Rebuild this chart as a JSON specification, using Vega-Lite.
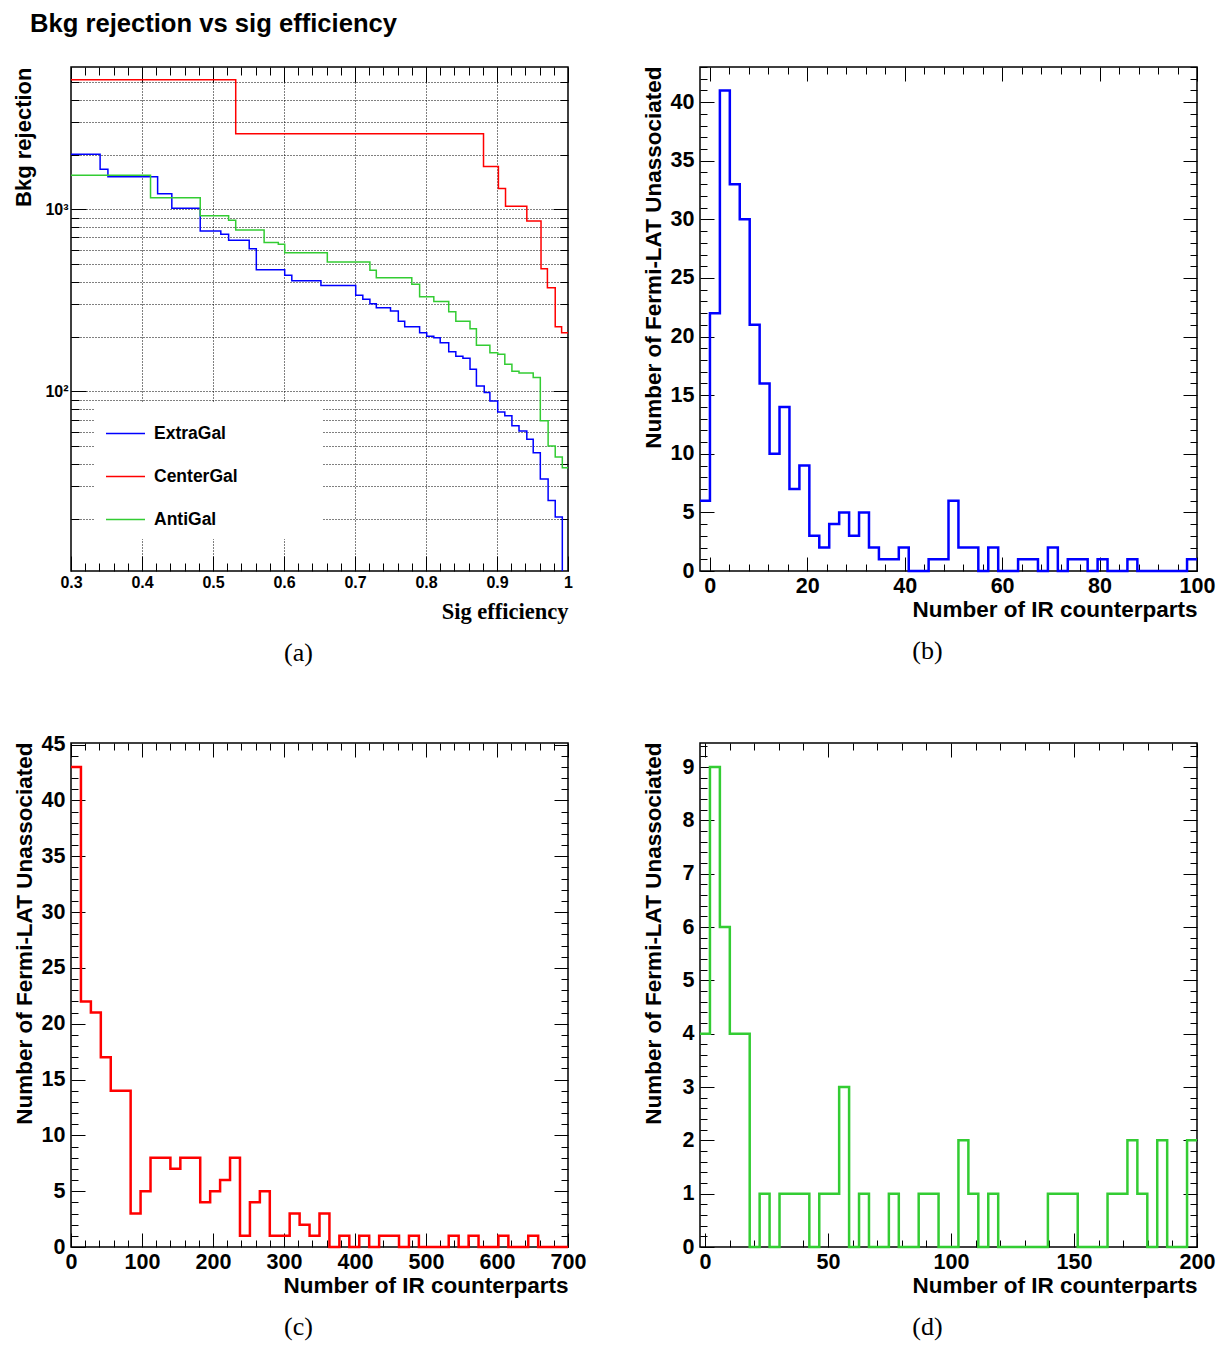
{
  "$schema": "https://vega.github.io/schema/vega-lite/v6.json",
  "background": "white",
  "padding": {"left": 11, "top": 11, "right": 5, "bottom": 5},
  "title": {"text": "Bkg rejection vs sig efficiency", "anchor": "start", "frame": "group", "dx": -41, "offset": -2, "baseline": "alphabetic", "font": "Liberation Sans", "fontSize": 25.6, "fontWeight": "bold", "color": "black"},
  "columns": 2,
  "spacing": {"row": 172, "column": 132},
  "bounds": "flush",
  "concat": [
    {
      "width": 497, "height": 504,
      "title": {"text": "(a)", "orient": "bottom", "anchor": "middle", "frame": "group", "dx": -21, "offset": 17, "baseline": "top", "font": "Liberation Serif", "fontSize": 26, "fontWeight": "normal", "color": "black"},
      "data": {"values": [
        {"eff": 0.300, "rej": 2006, "sample": "ExtraGal"},
        {"eff": 0.341, "rej": 1659, "sample": "ExtraGal"},
        {"eff": 0.352, "rej": 1511, "sample": "ExtraGal"},
        {"eff": 0.422, "rej": 1218, "sample": "ExtraGal"},
        {"eff": 0.442, "rej": 1013, "sample": "ExtraGal"},
        {"eff": 0.482, "rej": 760, "sample": "ExtraGal"},
        {"eff": 0.511, "rej": 729, "sample": "ExtraGal"},
        {"eff": 0.522, "rej": 676, "sample": "ExtraGal"},
        {"eff": 0.551, "rej": 608, "sample": "ExtraGal"},
        {"eff": 0.561, "rej": 466, "sample": "ExtraGal"},
        {"eff": 0.601, "rej": 434, "sample": "ExtraGal"},
        {"eff": 0.611, "rej": 405, "sample": "ExtraGal"},
        {"eff": 0.652, "rej": 381, "sample": "ExtraGal"},
        {"eff": 0.701, "rej": 337, "sample": "ExtraGal"},
        {"eff": 0.711, "rej": 320, "sample": "ExtraGal"},
        {"eff": 0.721, "rej": 303, "sample": "ExtraGal"},
        {"eff": 0.730, "rej": 288, "sample": "ExtraGal"},
        {"eff": 0.750, "rej": 276, "sample": "ExtraGal"},
        {"eff": 0.761, "rej": 243, "sample": "ExtraGal"},
        {"eff": 0.770, "rej": 226, "sample": "ExtraGal"},
        {"eff": 0.791, "rej": 210, "sample": "ExtraGal"},
        {"eff": 0.801, "rej": 201, "sample": "ExtraGal"},
        {"eff": 0.811, "rej": 197, "sample": "ExtraGal"},
        {"eff": 0.820, "rej": 185, "sample": "ExtraGal"},
        {"eff": 0.832, "rej": 165, "sample": "ExtraGal"},
        {"eff": 0.842, "rej": 156, "sample": "ExtraGal"},
        {"eff": 0.852, "rej": 152, "sample": "ExtraGal"},
        {"eff": 0.862, "rej": 132, "sample": "ExtraGal"},
        {"eff": 0.871, "rej": 107, "sample": "ExtraGal"},
        {"eff": 0.882, "rej": 98.5, "sample": "ExtraGal"},
        {"eff": 0.890, "rej": 88.5, "sample": "ExtraGal"},
        {"eff": 0.901, "rej": 77, "sample": "ExtraGal"},
        {"eff": 0.911, "rej": 73.3, "sample": "ExtraGal"},
        {"eff": 0.921, "rej": 64.6, "sample": "ExtraGal"},
        {"eff": 0.931, "rej": 60.6, "sample": "ExtraGal"},
        {"eff": 0.942, "rej": 54.6, "sample": "ExtraGal"},
        {"eff": 0.951, "rej": 46, "sample": "ExtraGal"},
        {"eff": 0.961, "rej": 33, "sample": "ExtraGal"},
        {"eff": 0.972, "rej": 25.1, "sample": "ExtraGal"},
        {"eff": 0.982, "rej": 20.4, "sample": "ExtraGal"},
        {"eff": 0.992, "rej": 5, "sample": "ExtraGal"},
        {"eff": 1.0, "rej": 5, "sample": "ExtraGal"},
        {"eff": 0.300, "rej": 5150, "sample": "CenterGal"},
        {"eff": 0.532, "rej": 2600, "sample": "CenterGal"},
        {"eff": 0.881, "rej": 1720, "sample": "CenterGal"},
        {"eff": 0.902, "rej": 1300, "sample": "CenterGal"},
        {"eff": 0.912, "rej": 1040, "sample": "CenterGal"},
        {"eff": 0.942, "rej": 863, "sample": "CenterGal"},
        {"eff": 0.962, "rej": 472, "sample": "CenterGal"},
        {"eff": 0.971, "rej": 371, "sample": "CenterGal"},
        {"eff": 0.982, "rej": 226, "sample": "CenterGal"},
        {"eff": 0.991, "rej": 210, "sample": "CenterGal"},
        {"eff": 1.0, "rej": 210, "sample": "CenterGal"},
        {"eff": 0.300, "rej": 1537, "sample": "AntiGal"},
        {"eff": 0.412, "rej": 1158, "sample": "AntiGal"},
        {"eff": 0.482, "rej": 922, "sample": "AntiGal"},
        {"eff": 0.522, "rej": 870, "sample": "AntiGal"},
        {"eff": 0.532, "rej": 770, "sample": "AntiGal"},
        {"eff": 0.572, "rej": 656, "sample": "AntiGal"},
        {"eff": 0.592, "rej": 642, "sample": "AntiGal"},
        {"eff": 0.601, "rej": 577, "sample": "AntiGal"},
        {"eff": 0.661, "rej": 513, "sample": "AntiGal"},
        {"eff": 0.721, "rej": 462, "sample": "AntiGal"},
        {"eff": 0.730, "rej": 421, "sample": "AntiGal"},
        {"eff": 0.780, "rej": 387, "sample": "AntiGal"},
        {"eff": 0.791, "rej": 331, "sample": "AntiGal"},
        {"eff": 0.811, "rej": 311, "sample": "AntiGal"},
        {"eff": 0.832, "rej": 274, "sample": "AntiGal"},
        {"eff": 0.842, "rej": 243, "sample": "AntiGal"},
        {"eff": 0.862, "rej": 221, "sample": "AntiGal"},
        {"eff": 0.871, "rej": 179, "sample": "AntiGal"},
        {"eff": 0.890, "rej": 163, "sample": "AntiGal"},
        {"eff": 0.901, "rej": 160, "sample": "AntiGal"},
        {"eff": 0.911, "rej": 141, "sample": "AntiGal"},
        {"eff": 0.921, "rej": 129, "sample": "AntiGal"},
        {"eff": 0.931, "rej": 126, "sample": "AntiGal"},
        {"eff": 0.951, "rej": 119, "sample": "AntiGal"},
        {"eff": 0.961, "rej": 69, "sample": "AntiGal"},
        {"eff": 0.972, "rej": 50, "sample": "AntiGal"},
        {"eff": 0.982, "rej": 43.6, "sample": "AntiGal"},
        {"eff": 0.992, "rej": 38, "sample": "AntiGal"},
        {"eff": 1.0, "rej": 38, "sample": "AntiGal"}
      ]},
      "layer": [
        {
          "mark": {"type": "line", "interpolate": "step-after", "strokeWidth": 1.5, "clip": true},
          "encoding": {
            "x": {"field": "eff", "type": "quantitative",
              "scale": {"domain": [0.3, 1.0], "nice": false, "zero": false},
              "axis": {"orient": "bottom",
                "values": [0.3,0.32,0.34,0.36,0.38,0.4,0.42,0.44,0.46,0.48,0.5,0.52,0.54,0.56,0.58,0.6,0.62,0.64,0.66,0.68,0.7,0.72,0.74,0.76,0.78,0.8,0.82,0.84,0.86,0.88,0.9,0.92,0.94,0.96,0.98,1],
                "labelExpr": "abs(datum.value*10 - round(datum.value*10)) < 0.001 ? (datum.value > 0.999 ? '1' : format(datum.value, '.1f')) : ''",
                "labelFontSize": 16, "labelPadding": 18,
                "tickSize": {"condition": {"test": "abs(datum.value*10 - round(datum.value*10)) < 0.001", "value": -15}, "value": -8},
                "grid": true, "gridColor": "black", "gridDash": [1, 2], "gridWidth": 1,
                "gridOpacity": {"condition": {"test": "abs(datum.value*10 - round(datum.value*10)) < 0.001 && datum.value > 0.31 && datum.value < 0.99", "value": 1}, "value": 0},
                "title": "Sig efficiency", "titleFont": "Liberation Serif", "titleFontSize": 22.5,
                "titleX": 497, "titleY": 47, "titleAlign": "right", "titleBaseline": "alphabetic", "titleAngle": 0}},
            "y": {"field": "rej", "type": "quantitative",
              "scale": {"type": "log", "domain": [10.3, 6050], "nice": false},
              "axis": {"orient": "left",
                "values": [20,30,40,50,60,70,80,90,100,200,300,400,500,600,700,800,900,1000,2000,3000,4000,5000],
                "labelExpr": "datum.value == 100 ? '10²' : (datum.value == 1000 ? '10³' : '')",
                "labelFontSize": 16, "labelPadding": 18,
                "tickSize": {"condition": {"test": "datum.value == 100 || datum.value == 1000", "value": -15}, "value": -8},
                "grid": true, "gridColor": "black", "gridDash": [1, 2], "gridWidth": 1,
                "title": "Bkg rejection", "titleFontSize": 22,
                "titleX": -41, "titleY": 0, "titleAngle": 270, "titleAlign": "right", "titleBaseline": "alphabetic"}},
            "color": {"field": "sample", "type": "nominal",
              "scale": {"domain": ["ExtraGal", "CenterGal", "AntiGal"], "range": ["#0000ff", "#ff0000", "#33cc33"]},
              "legend": {"orient": "none", "legendX": 23, "legendY": 335, "title": null,
                "symbolType": "stroke", "symbolSize": 1521, "symbolStrokeWidth": 1.5,
                "labelFont": "Liberation Sans", "labelFontWeight": "bold", "labelFontSize": 17.5, "labelColor": "black",
                "labelExpr": "datum.label + '               \u200b'",
                "labelLimit": 400,
                "labelOffset": 8, "rowPadding": 14, "padding": 11, "fillColor": "white"}}
          }
        },
        {
          "mark": {"type": "line", "opacity": 0, "clip": true},
          "encoding": {
            "x": {"field": "eff", "type": "quantitative",
              "scale": {"domain": [0.3, 1.0], "nice": false, "zero": false},
              "axis": {"orient": "top", "labels": false, "title": null, "grid": false,
                "values": [0.3,0.32,0.34,0.36,0.38,0.4,0.42,0.44,0.46,0.48,0.5,0.52,0.54,0.56,0.58,0.6,0.62,0.64,0.66,0.68,0.7,0.72,0.74,0.76,0.78,0.8,0.82,0.84,0.86,0.88,0.9,0.92,0.94,0.96,0.98,1],
                "tickSize": {"condition": {"test": "abs(datum.value*10 - round(datum.value*10)) < 0.001", "value": -15}, "value": -8}}},
            "y": {"field": "rej", "type": "quantitative",
              "scale": {"type": "log", "domain": [10.3, 6050], "nice": false},
              "axis": {"orient": "right", "labels": false, "title": null, "grid": false,
                "values": [20,30,40,50,60,70,80,90,100,200,300,400,500,600,700,800,900,1000,2000,3000,4000,5000],
                "tickSize": {"condition": {"test": "datum.value == 100 || datum.value == 1000", "value": -15}, "value": -8}}},
            "detail": {"field": "sample"}
          }
        }
      ],
      "resolve": {"axis": {"x": "independent", "y": "independent"}}
    },
    {
      "width": 497, "height": 504,
      "title": {"text": "(b)", "orient": "bottom", "anchor": "middle", "frame": "group", "dx": -21, "offset": 17, "baseline": "top", "font": "Liberation Serif", "fontSize": 26, "fontWeight": "normal", "color": "black"},
      "data": {"values": [
        {"lo": -2, "n": 6}, {"lo": 0.04, "n": 22}, {"lo": 2.08, "n": 41}, {"lo": 4.12, "n": 33}, {"lo": 6.16, "n": 30},
        {"lo": 8.2, "n": 21}, {"lo": 10.24, "n": 16}, {"lo": 12.28, "n": 10}, {"lo": 14.32, "n": 14}, {"lo": 16.36, "n": 7},
        {"lo": 18.4, "n": 9}, {"lo": 20.44, "n": 3}, {"lo": 22.48, "n": 2}, {"lo": 24.52, "n": 4}, {"lo": 26.56, "n": 5},
        {"lo": 28.6, "n": 3}, {"lo": 30.64, "n": 5}, {"lo": 32.68, "n": 2}, {"lo": 34.72, "n": 1}, {"lo": 36.76, "n": 1},
        {"lo": 38.8, "n": 2}, {"lo": 40.84, "n": 0}, {"lo": 42.88, "n": 0}, {"lo": 44.92, "n": 1}, {"lo": 46.96, "n": 1},
        {"lo": 49, "n": 6}, {"lo": 51.04, "n": 2}, {"lo": 53.08, "n": 2}, {"lo": 55.12, "n": 0}, {"lo": 57.16, "n": 2},
        {"lo": 59.2, "n": 0}, {"lo": 61.24, "n": 0}, {"lo": 63.28, "n": 1}, {"lo": 65.32, "n": 1}, {"lo": 67.36, "n": 0},
        {"lo": 69.4, "n": 2}, {"lo": 71.44, "n": 0}, {"lo": 73.48, "n": 1}, {"lo": 75.52, "n": 1}, {"lo": 77.56, "n": 0},
        {"lo": 79.6, "n": 1}, {"lo": 81.64, "n": 0}, {"lo": 83.68, "n": 0}, {"lo": 85.72, "n": 1}, {"lo": 87.76, "n": 0},
        {"lo": 89.8, "n": 0}, {"lo": 91.84, "n": 0}, {"lo": 93.88, "n": 0}, {"lo": 95.92, "n": 0}, {"lo": 97.96, "n": 1},
        {"lo": 100, "n": 1}
      ]},
      "layer": [
        {
          "mark": {"type": "line", "interpolate": "step-after", "color": "#0000ff", "strokeWidth": 2.5},
          "encoding": {
            "x": {"field": "lo", "type": "quantitative",
              "scale": {"domain": [-2, 100], "nice": false, "zero": false},
              "axis": {"orient": "bottom",
                "values": [0,4,8,12,16,20,24,28,32,36,40,44,48,52,56,60,64,68,72,76,80,84,88,92,96,100],
                "labelExpr": "datum.value % 20 == 0 ? datum.label : ''",
                "labelFontSize": 21.5, "labelPadding": 18,
                "tickSize": {"condition": {"test": "datum.value % 20 == 0", "value": -14}, "value": -7},
                "title": "Number of IR counterparts", "titleFontSize": 22.5,
                "titleX": 497, "titleY": 45, "titleAlign": "right", "titleBaseline": "alphabetic", "titleAngle": 0}},
            "y": {"field": "n", "type": "quantitative",
              "scale": {"domain": [0, 43], "nice": false},
              "axis": {"orient": "left",
                "values": [0,1,2,3,4,5,6,7,8,9,10,11,12,13,14,15,16,17,18,19,20,21,22,23,24,25,26,27,28,29,30,31,32,33,34,35,36,37,38,39,40,41,42,43],
                "labelExpr": "datum.value % 5 == 0 ? datum.label : ''",
                "labelFontSize": 21.5, "labelPadding": 20,
                "tickSize": {"condition": {"test": "datum.value % 5 == 0", "value": -14}, "value": -7},
                "title": "Number of Fermi-LAT Unassociated", "titleFontSize": 22.5,
                "titleX": -40, "titleY": -1, "titleAngle": 270, "titleAlign": "right", "titleBaseline": "alphabetic"}}
          }
        },
        {
          "mark": {"type": "line", "opacity": 0},
          "encoding": {
            "x": {"field": "lo", "type": "quantitative",
              "scale": {"domain": [-2, 100], "nice": false, "zero": false},
              "axis": {"orient": "top", "labels": false, "title": null,
                "values": [0,4,8,12,16,20,24,28,32,36,40,44,48,52,56,60,64,68,72,76,80,84,88,92,96,100],
                "tickSize": {"condition": {"test": "datum.value % 20 == 0", "value": -14}, "value": -7}}},
            "y": {"field": "n", "type": "quantitative",
              "scale": {"domain": [0, 43], "nice": false},
              "axis": {"orient": "right", "labels": false, "title": null,
                "values": [0,1,2,3,4,5,6,7,8,9,10,11,12,13,14,15,16,17,18,19,20,21,22,23,24,25,26,27,28,29,30,31,32,33,34,35,36,37,38,39,40,41,42,43],
                "tickSize": {"condition": {"test": "datum.value % 5 == 0", "value": -14}, "value": -7}}}
          }
        }
      ],
      "resolve": {"axis": {"x": "independent", "y": "independent"}}
    },
    {
      "width": 497, "height": 504,
      "title": {"text": "(c)", "orient": "bottom", "anchor": "middle", "frame": "group", "dx": -21, "offset": 17, "baseline": "top", "font": "Liberation Serif", "fontSize": 26, "fontWeight": "normal", "color": "black"},
      "data": {"values": [
        {"lo": 0, "n": 43}, {"lo": 14, "n": 22}, {"lo": 28, "n": 21}, {"lo": 42, "n": 17}, {"lo": 56, "n": 14},
        {"lo": 70, "n": 14}, {"lo": 84, "n": 3}, {"lo": 98, "n": 5}, {"lo": 112, "n": 8}, {"lo": 126, "n": 8},
        {"lo": 140, "n": 7}, {"lo": 154, "n": 8}, {"lo": 168, "n": 8}, {"lo": 182, "n": 4}, {"lo": 196, "n": 5},
        {"lo": 210, "n": 6}, {"lo": 224, "n": 8}, {"lo": 238, "n": 1}, {"lo": 252, "n": 4}, {"lo": 266, "n": 5},
        {"lo": 280, "n": 1}, {"lo": 294, "n": 1}, {"lo": 308, "n": 3}, {"lo": 322, "n": 2}, {"lo": 336, "n": 1},
        {"lo": 350, "n": 3}, {"lo": 364, "n": 0}, {"lo": 378, "n": 1}, {"lo": 392, "n": 0}, {"lo": 406, "n": 1},
        {"lo": 420, "n": 0}, {"lo": 434, "n": 1}, {"lo": 448, "n": 1}, {"lo": 462, "n": 0}, {"lo": 476, "n": 1},
        {"lo": 490, "n": 0}, {"lo": 504, "n": 0}, {"lo": 518, "n": 0}, {"lo": 532, "n": 1}, {"lo": 546, "n": 0},
        {"lo": 560, "n": 1}, {"lo": 574, "n": 0}, {"lo": 588, "n": 0}, {"lo": 602, "n": 1}, {"lo": 616, "n": 0},
        {"lo": 630, "n": 0}, {"lo": 644, "n": 1}, {"lo": 658, "n": 0}, {"lo": 672, "n": 0}, {"lo": 686, "n": 0},
        {"lo": 700, "n": 0}
      ]},
      "layer": [
        {
          "mark": {"type": "line", "interpolate": "step-after", "color": "#ff0000", "strokeWidth": 2.5},
          "encoding": {
            "x": {"field": "lo", "type": "quantitative",
              "scale": {"domain": [0, 700], "nice": false, "zero": false},
              "axis": {"orient": "bottom",
                "values": [0,20,40,60,80,100,120,140,160,180,200,220,240,260,280,300,320,340,360,380,400,420,440,460,480,500,520,540,560,580,600,620,640,660,680,700],
                "labelExpr": "datum.value % 100 == 0 ? datum.label : ''",
                "labelFontSize": 21.5, "labelPadding": 18,
                "tickSize": {"condition": {"test": "datum.value % 100 == 0", "value": -14}, "value": -7},
                "title": "Number of IR counterparts", "titleFontSize": 22.5,
                "titleX": 497, "titleY": 45, "titleAlign": "right", "titleBaseline": "alphabetic", "titleAngle": 0}},
            "y": {"field": "n", "type": "quantitative",
              "scale": {"domain": [0, 45.15], "nice": false},
              "axis": {"orient": "left",
                "values": [0,1,2,3,4,5,6,7,8,9,10,11,12,13,14,15,16,17,18,19,20,21,22,23,24,25,26,27,28,29,30,31,32,33,34,35,36,37,38,39,40,41,42,43,44,45],
                "labelExpr": "datum.value % 5 == 0 ? datum.label : ''",
                "labelFontSize": 21.5, "labelPadding": 20,
                "tickSize": {"condition": {"test": "datum.value % 5 == 0", "value": -14}, "value": -7},
                "title": "Number of Fermi-LAT Unassociated", "titleFontSize": 22.5,
                "titleX": -40, "titleY": -1, "titleAngle": 270, "titleAlign": "right", "titleBaseline": "alphabetic"}}
          }
        },
        {
          "mark": {"type": "line", "opacity": 0},
          "encoding": {
            "x": {"field": "lo", "type": "quantitative",
              "scale": {"domain": [0, 700], "nice": false, "zero": false},
              "axis": {"orient": "top", "labels": false, "title": null,
                "values": [0,20,40,60,80,100,120,140,160,180,200,220,240,260,280,300,320,340,360,380,400,420,440,460,480,500,520,540,560,580,600,620,640,660,680,700],
                "tickSize": {"condition": {"test": "datum.value % 100 == 0", "value": -14}, "value": -7}}},
            "y": {"field": "n", "type": "quantitative",
              "scale": {"domain": [0, 45.15], "nice": false},
              "axis": {"orient": "right", "labels": false, "title": null,
                "values": [0,1,2,3,4,5,6,7,8,9,10,11,12,13,14,15,16,17,18,19,20,21,22,23,24,25,26,27,28,29,30,31,32,33,34,35,36,37,38,39,40,41,42,43,44,45],
                "tickSize": {"condition": {"test": "datum.value % 5 == 0", "value": -14}, "value": -7}}}
          }
        }
      ],
      "resolve": {"axis": {"x": "independent", "y": "independent"}}
    },
    {
      "width": 497, "height": 504,
      "title": {"text": "(d)", "orient": "bottom", "anchor": "middle", "frame": "group", "dx": -21, "offset": 17, "baseline": "top", "font": "Liberation Serif", "fontSize": 26, "fontWeight": "normal", "color": "black"},
      "data": {"values": [
        {"lo": -2, "n": 4}, {"lo": 2.04, "n": 9}, {"lo": 6.08, "n": 6}, {"lo": 10.12, "n": 4}, {"lo": 14.16, "n": 4},
        {"lo": 18.2, "n": 0}, {"lo": 22.24, "n": 1}, {"lo": 26.28, "n": 0}, {"lo": 30.32, "n": 1}, {"lo": 34.36, "n": 1},
        {"lo": 38.4, "n": 1}, {"lo": 42.44, "n": 0}, {"lo": 46.48, "n": 1}, {"lo": 50.52, "n": 1}, {"lo": 54.56, "n": 3},
        {"lo": 58.6, "n": 0}, {"lo": 62.64, "n": 1}, {"lo": 66.68, "n": 0}, {"lo": 70.72, "n": 0}, {"lo": 74.76, "n": 1},
        {"lo": 78.8, "n": 0}, {"lo": 82.84, "n": 0}, {"lo": 86.88, "n": 1}, {"lo": 90.92, "n": 1}, {"lo": 94.96, "n": 0},
        {"lo": 99, "n": 0}, {"lo": 103.04, "n": 2}, {"lo": 107.08, "n": 1}, {"lo": 111.12, "n": 0}, {"lo": 115.16, "n": 1},
        {"lo": 119.2, "n": 0}, {"lo": 123.24, "n": 0}, {"lo": 127.28, "n": 0}, {"lo": 131.32, "n": 0}, {"lo": 135.36, "n": 0},
        {"lo": 139.4, "n": 1}, {"lo": 143.44, "n": 1}, {"lo": 147.48, "n": 1}, {"lo": 151.52, "n": 0}, {"lo": 155.56, "n": 0},
        {"lo": 159.6, "n": 0}, {"lo": 163.64, "n": 1}, {"lo": 167.68, "n": 1}, {"lo": 171.72, "n": 2}, {"lo": 175.76, "n": 1},
        {"lo": 179.8, "n": 0}, {"lo": 183.84, "n": 2}, {"lo": 187.88, "n": 0}, {"lo": 191.92, "n": 0}, {"lo": 195.96, "n": 2},
        {"lo": 200, "n": 2}
      ]},
      "layer": [
        {
          "mark": {"type": "line", "interpolate": "step-after", "color": "#33cc33", "strokeWidth": 2.5},
          "encoding": {
            "x": {"field": "lo", "type": "quantitative",
              "scale": {"domain": [-2, 200], "nice": false, "zero": false},
              "axis": {"orient": "bottom",
                "values": [0,10,20,30,40,50,60,70,80,90,100,110,120,130,140,150,160,170,180,190,200],
                "labelExpr": "datum.value % 50 == 0 ? datum.label : ''",
                "labelFontSize": 21.5, "labelPadding": 18,
                "tickSize": {"condition": {"test": "datum.value % 50 == 0", "value": -14}, "value": -7},
                "title": "Number of IR counterparts", "titleFontSize": 22.5,
                "titleX": 497, "titleY": 45, "titleAlign": "right", "titleBaseline": "alphabetic", "titleAngle": 0}},
            "y": {"field": "n", "type": "quantitative",
              "scale": {"domain": [0, 9.45], "nice": false},
              "axis": {"orient": "left",
                "values": [0,0.2,0.4,0.6,0.8,1,1.2,1.4,1.6,1.8,2,2.2,2.4,2.6,2.8,3,3.2,3.4,3.6,3.8,4,4.2,4.4,4.6,4.8,5,5.2,5.4,5.6,5.8,6,6.2,6.4,6.6,6.8,7,7.2,7.4,7.6,7.8,8,8.2,8.4,8.6,8.8,9,9.2,9.4],
                "labelExpr": "abs(datum.value - round(datum.value)) < 0.01 ? format(datum.value, 'd') : ''",
                "labelFontSize": 21.5, "labelPadding": 20,
                "tickSize": {"condition": {"test": "abs(datum.value - round(datum.value)) < 0.01", "value": -14}, "value": -7},
                "title": "Number of Fermi-LAT Unassociated", "titleFontSize": 22.5,
                "titleX": -40, "titleY": -1, "titleAngle": 270, "titleAlign": "right", "titleBaseline": "alphabetic"}}
          }
        },
        {
          "mark": {"type": "line", "opacity": 0},
          "encoding": {
            "x": {"field": "lo", "type": "quantitative",
              "scale": {"domain": [-2, 200], "nice": false, "zero": false},
              "axis": {"orient": "top", "labels": false, "title": null,
                "values": [0,10,20,30,40,50,60,70,80,90,100,110,120,130,140,150,160,170,180,190,200],
                "tickSize": {"condition": {"test": "datum.value % 50 == 0", "value": -14}, "value": -7}}},
            "y": {"field": "n", "type": "quantitative",
              "scale": {"domain": [0, 9.45], "nice": false},
              "axis": {"orient": "right", "labels": false, "title": null,
                "values": [0,0.2,0.4,0.6,0.8,1,1.2,1.4,1.6,1.8,2,2.2,2.4,2.6,2.8,3,3.2,3.4,3.6,3.8,4,4.2,4.4,4.6,4.8,5,5.2,5.4,5.6,5.8,6,6.2,6.4,6.6,6.8,7,7.2,7.4,7.6,7.8,8,8.2,8.4,8.6,8.8,9,9.2,9.4],
                "tickSize": {"condition": {"test": "abs(datum.value - round(datum.value)) < 0.01", "value": -14}, "value": -7}}}
          }
        }
      ],
      "resolve": {"axis": {"x": "independent", "y": "independent"}}
    }
  ],
  "config": {
    "view": {"stroke": "black", "strokeWidth": 1.5},
    "axis": {"domain": false, "grid": false, "labelFont": "Liberation Sans", "labelFontWeight": "bold", "labelColor": "black",
      "tickColor": "black", "tickWidth": 1, "titleFont": "Liberation Sans", "titleFontWeight": "bold", "titleColor": "black",
      "labelOverlap": false, "labelFlush": false, "labelBound": false}
  }
}
